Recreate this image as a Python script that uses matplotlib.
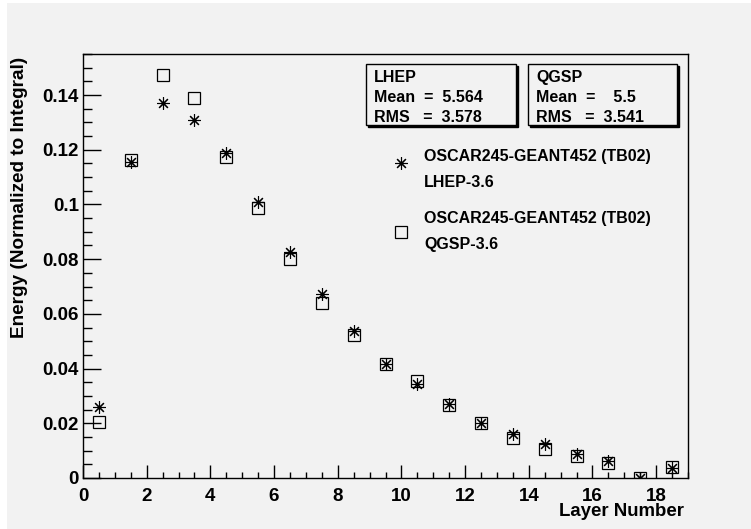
import matplotlib
matplotlib.use("Agg")
import matplotlib.pyplot as plt
from matplotlib.patches import Rectangle
from matplotlib.ticker import MultipleLocator, FuncFormatter

plt.rcParams['font.family'] = ['Liberation Sans', 'DejaVu Sans']
plt.rcParams['font.weight'] = 'bold'

layers = [0.5, 1.5, 2.5, 3.5, 4.5, 5.5, 6.5, 7.5, 8.5, 9.5, 10.5, 11.5, 12.5, 13.5, 14.5, 15.5, 16.5, 17.5, 18.5]
lhep = [0.0258, 0.1156, 0.1372, 0.1307, 0.1187, 0.1010, 0.0826, 0.0672, 0.0537, 0.0417,
        0.0344, 0.0270, 0.0200, 0.0160, 0.0123, 0.0088, 0.0061, 0.0001, 0.0037]
qgsp = [0.0206, 0.1162, 0.1473, 0.1390, 0.1174, 0.0986, 0.0802, 0.0641, 0.0523, 0.0417,
        0.0356, 0.0266, 0.0200, 0.0145, 0.0105, 0.0082, 0.0056, 0.0001, 0.0039]

stats_lhep = ["LHEP", "Mean  =  5.564", "RMS   =  3.578"]
stats_qgsp = ["QGSP", "Mean  =    5.5", "RMS   =  3.541"]
legend_lines = [["OSCAR245-GEANT452 (TB02)", "LHEP-3.6"], ["OSCAR245-GEANT452 (TB02)", "QGSP-3.6"]]

W, H = 751, 529
fig = plt.figure(figsize=(W / 100, H / 100), dpi=100, facecolor='white')
BG = '#f2f2f2'

def fx(px):
    return px / W

def fy(py):
    return 1 - py / H

# gray pad background
fig.patches.append(Rectangle((fx(7), 0), 1 - fx(7), fy(3), transform=fig.transFigure,
                             facecolor=BG, edgecolor='none', zorder=-10))

ax = fig.add_axes([fx(83), fy(478), (688 - 83) / W, (478 - 54) / H])
ax.set_facecolor(BG)
ax.set_xlim(0, 19)
ax.set_ylim(0, 0.155)

star = (8, 2, 0)
ax.plot(layers, lhep, linestyle='none', marker=star, markersize=9, markeredgewidth=0.8,
        color='black', zorder=3)
ax.plot(layers, qgsp, linestyle='none', marker='s', markersize=8, markeredgewidth=0.9,
        markerfacecolor='none', markeredgecolor='black', zorder=2)

for s in ax.spines.values():
    s.set_linewidth(1.0)

ax.xaxis.set_major_locator(MultipleLocator(2))
ax.xaxis.set_minor_locator(MultipleLocator(0.5))
ax.yaxis.set_major_locator(MultipleLocator(0.02))
ax.yaxis.set_minor_locator(MultipleLocator(0.005))

def yfmt(v, pos):
    if abs(v) < 1e-9:
        return "0"
    return ("%.2f" % v).rstrip('0')

ax.yaxis.set_major_formatter(FuncFormatter(yfmt))
ax.tick_params(axis='x', which='major', direction='in', length=9.5, width=1, pad=7, labelsize=13.5)
ax.tick_params(axis='x', which='minor', direction='in', length=4.5, width=1)
ax.tick_params(axis='y', which='major', direction='in', length=13, width=1, pad=3, labelsize=13.5)
ax.tick_params(axis='y', which='minor', direction='in', length=6.5, width=1)
for lab in ax.get_xticklabels() + ax.get_yticklabels():
    lab.set_fontweight('bold')

fig.text(fx(20), fy(57), "Energy (Normalized to Integral)", rotation=90, ha='center', va='top',
         fontsize=13.7, fontweight='bold')
fig.text(fx(684), fy(512), "Layer Number", ha='right', va='center', fontsize=13.4, fontweight='bold')

# stats boxes
def stats_box(x0, x1, y0, y1, lines):
    fig.patches.append(Rectangle((fx(x0 + 2), fy(y1 + 2)), fx(x1 - x0), (y1 - y0) / H,
                                 transform=fig.transFigure, facecolor='black', edgecolor='black',
                                 lw=1, zorder=4))
    fig.patches.append(Rectangle((fx(x0), fy(y1)), fx(x1 - x0), (y1 - y0) / H,
                                 transform=fig.transFigure, facecolor=BG, edgecolor='black',
                                 lw=1, zorder=5))
    for i, t in enumerate(lines):
        fig.text(fx(x0 + 8), fy(y0 + 13 + i * 20.5), t, ha='left', va='center',
                 fontsize=11.5, fontweight='bold', zorder=6)

stats_box(366, 516, 64, 125, stats_lhep)
stats_box(528, 677, 64, 125, stats_qgsp)

# legend
leg_ax = fig.add_axes([0, 0, 1, 1], facecolor='none')
leg_ax.set_xlim(0, W)
leg_ax.set_ylim(H, 0)
leg_ax.axis('off')
leg_ax.plot([401], [163], linestyle='none', marker=star, markersize=9, markeredgewidth=0.8, color='black')
leg_ax.plot([401], [232], linestyle='none', marker='s', markersize=8, markeredgewidth=0.9,
            markerfacecolor='none', markeredgecolor='black')
for (l1, l2), yc in zip(legend_lines, [156, 218]):
    leg_ax.text(424, yc, l1, ha='left', va='center', fontsize=11.5, fontweight='bold')
    leg_ax.text(424, yc + 26.5, l2, ha='left', va='center', fontsize=11.5, fontweight='bold')

fig.savefig("out.png", dpi=100, facecolor='white')
